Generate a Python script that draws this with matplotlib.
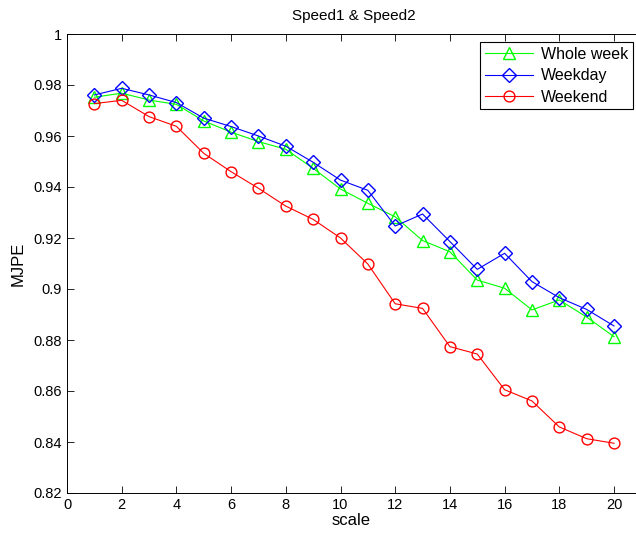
import matplotlib
matplotlib.use("Agg")
import matplotlib.pyplot as plt

plt.rcParams['font.family'] = ['Liberation Sans', 'DejaVu Sans']

scale = list(range(1, 21))
whole_week = [0.9752, 0.9768, 0.9741, 0.9724, 0.9659, 0.9615, 0.9578, 0.9548, 0.9473, 0.9392,
              0.9336, 0.9283, 0.9190, 0.9146, 0.9035, 0.9003, 0.8918, 0.8957, 0.8890, 0.8813]
weekday = [0.9761, 0.9787, 0.9761, 0.9731, 0.9670, 0.9637, 0.9600, 0.9560, 0.9497, 0.9427,
           0.9387, 0.9247, 0.9294, 0.9186, 0.9077, 0.9140, 0.9029, 0.8966, 0.8920, 0.8855]
weekend = [0.9727, 0.9740, 0.9676, 0.9638, 0.9532, 0.9460, 0.9395, 0.9325, 0.9273, 0.9200,
           0.9098, 0.8942, 0.8924, 0.8774, 0.8745, 0.8605, 0.8561, 0.8459, 0.8413, 0.8395]

W, H = 636, 533
fig = plt.figure(figsize=(W/100, H/100), dpi=100)
left_px, right_px, top_px, bottom_px = 67, 636, 34, 493
ax = fig.add_axes([left_px/W, 1 - bottom_px/H, (right_px-left_px)/W, (bottom_px-top_px)/H])

ax.plot(scale, whole_week, color=(0, 1, 0), marker='^', markersize=8.5, markerfacecolor='none',
        linewidth=0.8, label='Whole week')
ax.plot(scale, weekday, color=(0, 0, 1), marker='D', markersize=6.8, markerfacecolor='none',
        linewidth=0.8, label='Weekday')
ax.plot(scale, weekend, color=(1, 0, 0), marker='o', markersize=7.8, markerfacecolor='none',
        linewidth=0.8, label='Weekend')

px_per_unit = (614 - 67) / 20
ax.set_xlim(0, (right_px - left_px) / px_per_unit)
ax.set_ylim(0.82, 1.0)
ax.set_xticks(range(0, 21, 2))
yt = [0.82, 0.84, 0.86, 0.88, 0.9, 0.92, 0.94, 0.96, 0.98, 1.0]
ax.set_yticks(yt)
ax.set_yticklabels(['0.82', '0.84', '0.86', '0.88', '0.9', '0.92', '0.94', '0.96', '0.98', '1'])
ax.tick_params(direction='in', top=True, right=False, length=5, labelsize=10.5, width=0.6)
ax.spines['right'].set_visible(False)
for s in ax.spines.values():
    s.set_linewidth(0.7)

ax.set_xlabel('scale', fontsize=12, labelpad=1)
ax.set_ylabel('MJPE', fontsize=12, labelpad=6)
ax.set_title('Speed1 & Speed2', fontsize=11, pad=10, x=(354-left_px)/(right_px-left_px))

leg = ax.legend(loc='upper right', bbox_to_anchor=(633/W, 1 - 42/H), bbox_transform=fig.transFigure,
                fontsize=11.5, fancybox=False, edgecolor='black',
                handlelength=3.0, borderaxespad=0, labelspacing=0.4, borderpad=0.3,
                handletextpad=0.5, framealpha=1)
leg.get_frame().set_linewidth(0.8)

fig.savefig('out.png', dpi=100)
